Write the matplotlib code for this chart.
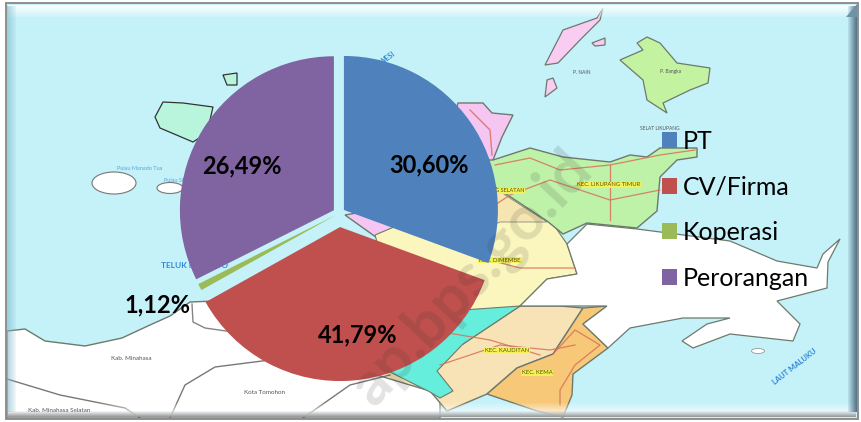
import matplotlib
matplotlib.use("Agg")
import matplotlib.pyplot as plt
from matplotlib.patches import Polygon, Rectangle, Ellipse

categories = ["PT", "CV/Firma", "Koperasi", "Perorangan"]
# wedge sizes as drawn, they do not follow the printed percentages
wedge_sizes = [30.6, 36.3, 0.7, 32.4]
printed_pct = [30.60, 41.79, 1.12, 26.49]
colors = ["#4F81BD", "#C0504D", "#9BBB59", "#8064A2"]

W, H = 861, 422
plt.rcParams['font.family'] = ['Lato', 'DejaVu Sans']

fig = plt.figure(figsize=(W / 100, H / 100), dpi=100)
ax = fig.add_axes([0, 0, 1, 1])


def py(pts):
    # picture pixels (y down) to axes coords
    return [(x, H - y) for x, y in pts]


def land(pts, color, edge="#6d7a6d", lw=0.9, z=1):
    ax.add_patch(Polygon(py(pts), closed=True, fc=color, ec=edge, lw=lw, zorder=z))


def road(pts, color="#D8705A", lw=0.9):
    xs, ys = zip(*py(pts))
    ax.plot(xs, ys, color=color, lw=lw, alpha=0.85, zorder=2)


def maplabel(x, y, s, size=4.5, color="#555555", rot=0, bg=None, weight="normal"):
    box = dict(fc=bg, ec="none", pad=0.6) if bg else None
    ax.text(x, H - y, s, fontsize=size, color=color, rotation=rot, ha="center",
            va="center", bbox=box, fontweight=weight, zorder=5)


# sea
ax.add_patch(Rectangle((6, 3), 852, 416, fc="#C5F1F9", ec="none", zorder=0))

# white land, south west
land([(7, 331), (25, 329), (45, 341), (85, 346), (122, 338), (150, 325), (170, 316), (190, 302),
      (215, 301), (300, 262), (345, 240), (400, 300), (440, 400), (440, 418), (7, 418)], "#FFFFFF", lw=1.0)
road([(192, 304), (193, 322), (205, 328), (240, 333)], "#707070", 1.0)
road([(7, 379), (60, 395), (125, 408), (140, 418)], "#606060", 1.0)
road([(170, 418), (185, 385), (215, 367), (270, 360)], "#606060", 1.0)
road([(303, 418), (350, 385), (390, 375)], "#606060", 1.0)

# mainland districts
land([(345, 215), (430, 200), (458, 103), (483, 103), (492, 113), (513, 115), (502, 137), (493, 160),
      (470, 230), (380, 240)], "#F6C6F2", lw=1.0)
land([(375, 235), (470, 195), (500, 190), (547, 215), (567, 244), (577, 274), (547, 279), (520, 306),
      (463, 344), (400, 320)], "#FBF6BE", lw=0.8)
land([(470, 160), (493, 160), (530, 148), (563, 157), (610, 162), (630, 155), (647, 157), (660, 148),
      (697, 148), (697, 157), (677, 160), (660, 177), (657, 211), (637, 228), (587, 223), (563, 234),
      (547, 221), (500, 190), (480, 180)], "#BDF2A8", lw=1.0)
land([(478, 172), (505, 195), (547, 222), (500, 222), (460, 240), (440, 225)], "#F5E5B0", lw=0.5)
land([(360, 370), (420, 320), (463, 344), (520, 306), (560, 306), (583, 308), (553, 354), (517, 368),
      (487, 394), (447, 411), (430, 391), (380, 376)], "#F8E3B6", lw=1.0)
land([(390, 372), (463, 310), (520, 306), (463, 344), (437, 371), (453, 391), (440, 398), (430, 392)],
     "#66EEDD", lw=0.8)
land([(607, 306), (583, 324), (608, 348), (573, 374), (572, 395), (563, 417), (537, 411), (487, 394),
      (517, 368), (553, 354), (583, 308)], "#F6C878", lw=1.0)

# white land, east
land([(567, 244), (587, 224), (637, 229), (730, 241), (777, 261), (817, 268), (823, 254), (840, 239),
      (828, 262), (827, 288), (777, 301), (800, 324), (793, 341), (730, 334), (693, 348), (682, 341),
      (707, 324), (730, 318), (683, 318), (630, 328), (608, 348), (583, 324), (607, 306), (520, 306),
      (547, 279), (577, 274)], "#FFFFFF", lw=0.9)
ax.add_patch(Ellipse((758, H - 351), 13, 5, fc="#FFFFFF", ec="#999999", lw=0.6, zorder=1))

# islands
land([(603, 8), (597, 18), (563, 30), (545, 65), (558, 63), (580, 40), (600, 20)], "#F9CCF2")
land([(592, 43), (605, 38), (605, 45), (595, 46)], "#F9CCF2")
land([(547, 80), (553, 78), (557, 88), (545, 97)], "#F9CCF2")
land([(647, 37), (660, 43), (677, 63), (710, 68), (708, 83), (690, 90), (663, 103), (667, 113), (647, 100),
      (643, 80), (620, 60), (643, 50), (637, 43)], "#C3F2A0")
land([(163, 102), (183, 103), (213, 107), (207, 133), (193, 142), (160, 128), (155, 117)], "#B8F5DC", edge="#333333")
land([(223, 75), (237, 73), (237, 85), (227, 85)], "#B8F5DC", edge="#333333")
ax.add_patch(Ellipse((114, H - 183), 44, 22, fc="#FFFFFF", ec="#777777", lw=0.8, zorder=1))
ax.add_patch(Ellipse((170, H - 188), 26, 11, fc="#FFFFFF", ec="#777777", lw=0.8, zorder=1))

# roads
road([(470, 110), (490, 130), (492, 155)], lw=1.0)
road([(495, 165), (530, 158), (560, 170), (610, 165), (660, 155), (695, 150)])
road([(480, 215), (510, 195), (550, 180), (610, 200), (660, 190)])
road([(610, 165), (610, 220)])
road([(470, 255), (520, 268), (575, 268)])
road([(440, 365), (500, 345), (550, 350), (575, 345)])
road([(553, 354), (575, 330), (600, 345), (575, 365), (560, 390), (560, 405)])
road([(430, 330), (490, 340), (540, 355)])

# map names
maplabel(140, 169, "Pulau Manado Tua", 4, "#5aa6d6")
maplabel(180, 181, "Pulau Siladen", 4, "#5aa6d6")
maplabel(195, 265, "TELUK MANADO", 6, "#2f86d8", weight="bold")
maplabel(131, 359, "Kab. Minahasa", 4.5)
maplabel(264, 393, "Kota Tomohon", 4.5)
maplabel(59, 410, "Kab. Minahasa Selatan", 4.5)
maplabel(388, 58, "WESI", 5, "#2f86d8", rot=35, weight="bold")
maplabel(609, 185, "KEC. LIKUPANG TIMUR", 4.2, "#555500", bg="#F4F05A")
maplabel(498, 191, "LIKUPANG SELATAN", 4, "#555500", bg="#F4F05A")
maplabel(500, 260, "KEC. DIMEMBE", 4.2, "#555500", bg="#F4F05A")
maplabel(507, 350, "KEC. KAUDITAN", 4.2, "#555500", bg="#F4F05A")
maplabel(537, 373, "KEC. KEMA", 4.2, "#555500", bg="#F4F05A")
maplabel(795, 367, "LAUT MALUKU", 5.5, "#2f86d8", rot=38, weight="bold")
maplabel(660, 129, "SELAT LIKUPANG", 3.5)
maplabel(582, 73, "P. NAIN", 3.5)
maplabel(670, 72, "P. Bangka", 3.5)

# bevelled frame, faded bands top and bottom
for i in range(12):
    ax.add_patch(Rectangle((8, H - 6 - i), 848, 1, fc="white", alpha=0.95 - i * 0.07, ec="none", zorder=4))
for i in range(14):
    ax.add_patch(Rectangle((8, H - 404 - i), 848, 1, fc="white", alpha=0.1 + i * 0.065, ec="none", zorder=4))
for i in range(6):
    ax.add_patch(Rectangle((8, H - 412 - i), 848, 1, fc="#8A8F92", alpha=0.12 + i * 0.15, ec="none", zorder=4))
for i in range(9):
    ax.add_patch(Rectangle((7 + i, H - 412), 1, 406, fc="#7FB8CC", alpha=0.6 - i * 0.06, ec="none", zorder=4))
    ax.add_patch(Rectangle((856 - i, H - 412), 1, 406, fc="#4F6F85", alpha=0.95 - i * 0.1, ec="none", zorder=4))
ax.add_patch(Polygon(py([(857, 4), (857, 17), (846, 17)]), fc="#6F93A6", ec="none", zorder=4))
ax.add_patch(Rectangle((6, H - 419), 852, 416, fc="none", ec="#8E8E8E", lw=1.4, zorder=5))

# pie, explode amounts are in pixels since the axes are in pixels
wedges, _ = ax.pie(wedge_sizes, colors=colors, startangle=90, counterclock=False,
                   center=(339, H - 213.4), radius=154, explode=[6, 13.7, 3.5, 6], frame=True)
for w in wedges:
    w.set_zorder(6)

label_xy = [(429, 165), (358, 335), (157, 305), (242, 166)]
for (x, y), v in zip(label_xy, printed_pct):
    ax.text(x, H - y, f"{v:.2f}%".replace(".", ","), fontsize=17, fontweight="bold",
            color="black", ha="center", va="center", zorder=8)

leg = ax.legend(wedges, categories, loc="upper left", bbox_to_anchor=(662 / W, 1 - 130 / H), frameon=False,
                fontsize=18, handlelength=0.6, handleheight=0.6, handletextpad=0.22, labelspacing=0.9,
                borderpad=0, borderaxespad=0)
leg.set_zorder(9)

# site watermark
ax.text(472, H - 278, "ap.bps.go.id", fontsize=44, fontweight="bold", color="#333333", alpha=0.14,
        rotation=47, ha="center", va="center", rotation_mode="anchor", zorder=7)

ax.set_xlim(0, W)
ax.set_ylim(0, H)
ax.set_aspect("equal")
ax.axis("off")
fig.savefig("out.png", dpi=100)
